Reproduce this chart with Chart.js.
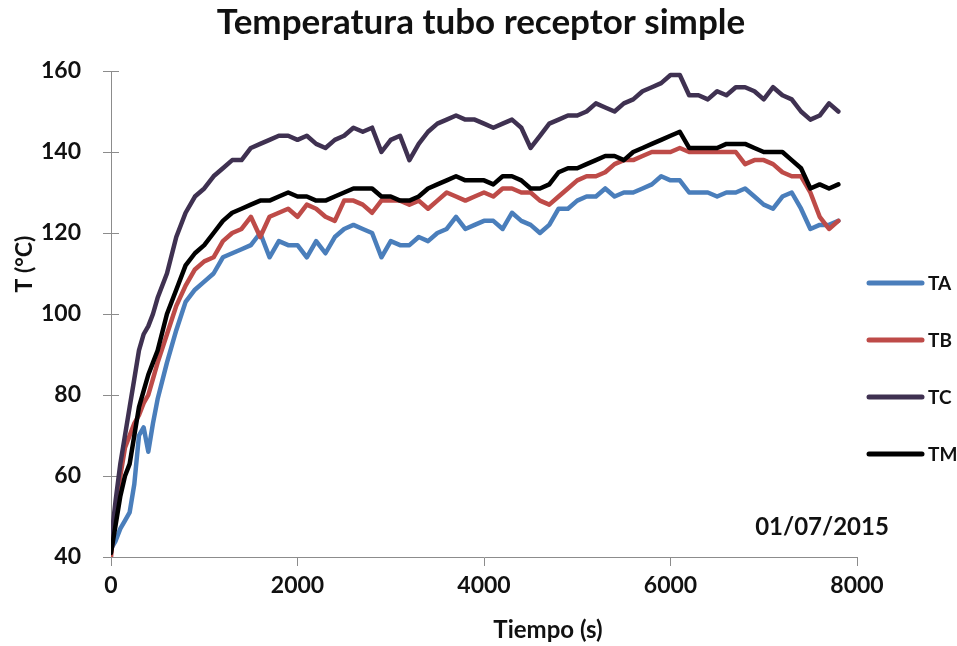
<!DOCTYPE html>
<html>
<head>
<meta charset="utf-8">
<script src="https://cdn.jsdelivr.net/npm/chart.js@4.4.1/dist/chart.umd.min.js"></script>
<style>
  html, body { margin: 0; padding: 0; background: #fff; }
  #grafico { display: block; }
</style>
</head>
<body>
<canvas id="grafico" width="957" height="646"></canvas>
<script>
const tiempo = [0, 50, 100, 150, 200, 250, 300, 350, 400, 450, 500,
  600, 700, 800, 900, 1000, 1100, 1200, 1300, 1400, 1500, 1600, 1700, 1800, 1900,
  2000, 2100, 2200, 2300, 2400, 2500, 2600, 2700, 2800, 2900,
  3000, 3100, 3200, 3300, 3400, 3500, 3600, 3700, 3800, 3900,
  4000, 4100, 4200, 4300, 4400, 4500, 4600, 4700, 4800, 4900,
  5000, 5100, 5200, 5300, 5400, 5500, 5600, 5700, 5800, 5900,
  6000, 6100, 6200, 6300, 6400, 6500, 6600, 6700, 6800, 6900,
  7000, 7100, 7200, 7300, 7400, 7500, 7600, 7700, 7800];

const serieTA = [42, 44, 47, 49, 51, 58, 70, 72, 66, 73, 79,
  88, 96, 103, 106, 108, 110, 114, 115, 116, 117, 120, 114, 118, 117,
  117, 114, 118, 115, 119, 121, 122, 121, 120, 114,
  118, 117, 117, 119, 118, 120, 121, 124, 121, 122,
  123, 123, 121, 125, 123, 122, 120, 122, 126, 126,
  128, 129, 129, 131, 129, 130, 130, 131, 132, 134,
  133, 133, 130, 130, 130, 129, 130, 130, 131, 129,
  127, 126, 129, 130, 126, 121, 122, 122, 123];

const serieTB = [40, 52, 60, 67, 70, 73, 75, 78, 80, 84, 88,
  95, 102, 107, 111, 113, 114, 118, 120, 121, 124, 119, 124, 125, 126,
  124, 127, 126, 124, 123, 128, 128, 127, 125, 128,
  128, 128, 127, 128, 126, 128, 130, 129, 128, 129,
  130, 129, 131, 131, 130, 130, 128, 127, 129, 131,
  133, 134, 134, 135, 137, 138, 138, 139, 140, 140,
  140, 141, 140, 140, 140, 140, 140, 140, 137, 138,
  138, 137, 135, 134, 134, 130, 124, 121, 123];

const serieTC = [44, 54, 63, 70, 77, 84, 91, 95, 97, 100, 104,
  110, 119, 125, 129, 131, 134, 136, 138, 138, 141, 142, 143, 144, 144,
  143, 144, 142, 141, 143, 144, 146, 145, 146, 140,
  143, 144, 138, 142, 145, 147, 148, 149, 148, 148,
  147, 146, 147, 148, 146, 141, 144, 147, 148, 149,
  149, 150, 152, 151, 150, 152, 153, 155, 156, 157,
  159, 159, 154, 154, 153, 155, 154, 156, 156, 155,
  153, 156, 154, 153, 150, 148, 149, 152, 150];

const serieTM = [41, 48, 55, 60, 63, 70, 77, 81, 85, 88, 91,
  100, 106, 112, 115, 117, 120, 123, 125, 126, 127, 128, 128, 129, 130,
  129, 129, 128, 128, 129, 130, 131, 131, 131, 129,
  129, 128, 128, 129, 131, 132, 133, 134, 133, 133,
  133, 132, 134, 134, 133, 131, 131, 132, 135, 136,
  136, 137, 138, 139, 139, 138, 140, 141, 142, 143,
  144, 145, 141, 141, 141, 141, 142, 142, 142, 141,
  140, 140, 140, 138, 136, 131, 132, 131, 132];

const nombres = ["TA", "TB", "TC", "TM"];
const colores = ["#4A7EBB", "#BE4B48", "#3F3151", "#000000"];
const marcasX = [0, 2000, 4000, 6000, 8000];
const marcasY = [40, 60, 80, 100, 120, 140, 160];

const colorEje = "#8C8C8C";
const colorTexto = "#111111";
const fuente = "Lato";

function puntos(serie) {
  return tiempo.map((t, i) => ({ x: t, y: serie[i] }));
}

// Marcas internas del eje Y, titulos, leyenda y fecha
const extras = {
  id: "extras",
  beforeDatasetsDraw(chart) {
    const ctx = chart.ctx;
    const ejeY = chart.scales.y;
    const area = chart.chartArea;
    ctx.save();
    ctx.strokeStyle = colorEje;
    ctx.lineWidth = 1;
    ejeY.ticks.forEach(t => {
      const py = Math.round(ejeY.getPixelForValue(t.value)) + 0.5;
      ctx.beginPath();
      ctx.moveTo(area.left, py);
      ctx.lineTo(area.left + 8, py);
      ctx.stroke();
    });
    ctx.restore();
  },
  afterDraw(chart) {
    const ctx = chart.ctx;
    ctx.save();
    ctx.fillStyle = colorTexto;
    ctx.textBaseline = "middle";
    ctx.textAlign = "center";

    ctx.font = "bold 35px " + fuente;
    ctx.fillText("Temperatura tubo receptor simple", 481, 23);

    ctx.save();
    ctx.translate(25, 264);
    ctx.rotate(-Math.PI / 2);
    ctx.font = "bold 23px " + fuente;
    ctx.fillText("T (°C)", 0, 0);
    ctx.restore();

    ctx.font = "bold 24px " + fuente;
    ctx.fillText("Tiempo (s)", 548, 630);
    ctx.fillText("01/07/2015", 822, 527);

    ctx.font = "bold 19px " + fuente;
    ctx.textAlign = "left";
    ctx.lineCap = "round";
    ctx.lineWidth = 5;
    chart.data.datasets.forEach((ds, i) => {
      const y = 283 + i * 57;
      ctx.strokeStyle = ds.borderColor;
      ctx.beginPath();
      ctx.moveTo(869, y);
      ctx.lineTo(922, y);
      ctx.stroke();
      ctx.fillText(ds.label, 928, y + 1);
    });
    ctx.restore();
  }
};

function crearGrafico() {
  const ctx = document.getElementById("grafico").getContext("2d");
  new Chart(ctx, {
    type: "line",
    data: {
      datasets: nombres.map((nombre, i) => ({
        label: nombre,
        data: puntos([serieTA, serieTB, serieTC, serieTM][i]),
        borderColor: colores[i],
        backgroundColor: colores[i],
        borderWidth: 4.5,
        borderJoinStyle: "round",
        borderCapStyle: "round",
        pointRadius: 0,
        tension: 0,
        order: nombres.length - i
      }))
    },
    options: {
      responsive: false,
      animation: false,
      devicePixelRatio: 1,
      layout: { padding: { left: 0, right: 100, top: 71, bottom: 0 } },
      plugins: {
        legend: { display: false },
        tooltip: { enabled: false },
        title: { display: false }
      },
      scales: {
        x: {
          type: "linear",
          min: 0,
          max: 8000,
          afterBuildTicks: s => { s.ticks = marcasX.map(v => ({ value: v })); },
          afterFit: s => { s.height = 89; },
          border: { display: true, color: colorEje, width: 1 },
          grid: { drawOnChartArea: false, drawTicks: true, tickLength: 9, color: colorEje },
          ticks: {
            color: colorTexto,
            padding: 6,
            maxRotation: 0,
            callback: v => String(v),
            font: { family: fuente, size: 23, weight: "bold" }
          }
        },
        y: {
          type: "linear",
          min: 40,
          max: 160,
          afterBuildTicks: s => { s.ticks = marcasY.map(v => ({ value: v })); },
          afterFit: s => { s.width = 111; },
          border: { display: true, color: colorEje, width: 1 },
          grid: { drawOnChartArea: false, drawTicks: true, tickLength: 8, color: colorEje },
          ticks: {
            color: colorTexto,
            padding: 22,
            callback: v => String(v),
            font: { family: fuente, size: 23, weight: "bold" }
          }
        }
      }
    },
    plugins: [extras]
  });
}

window.onload = crearGrafico;
</script>
</body>
</html>
